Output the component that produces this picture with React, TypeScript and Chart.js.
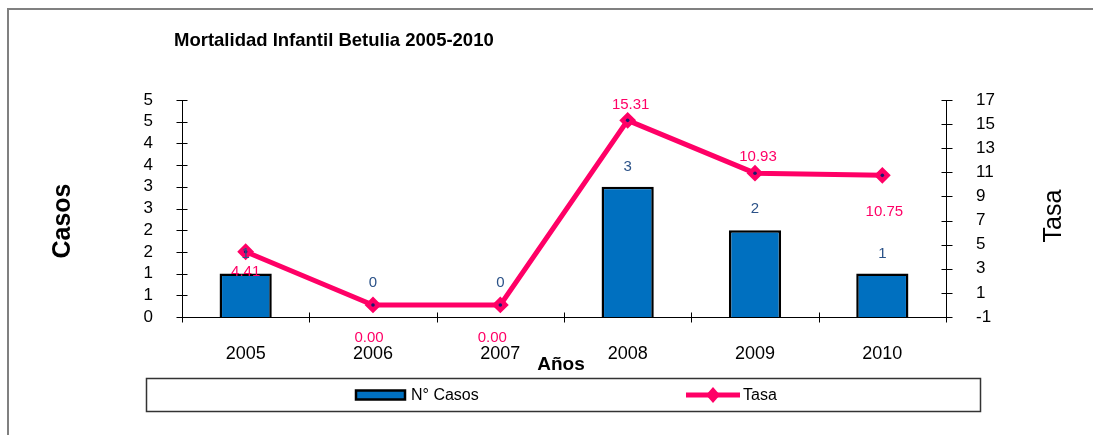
import React, { useEffect, useRef } from 'react';
import { Chart, registerables } from 'chart.js';

Chart.register(...registerables);

// ---- data ----
const categories = ['2005', '2006', '2007', '2008', '2009', '2010'];
const casos = [1, 0, 0, 3, 2, 1];
const tasa = [4.41, 0.0, 0.0, 15.31, 10.93, 10.75];
const casosLabel = 'N° Casos';
const tasaLabel = 'Tasa';
const chartTitle = 'Mortalidad Infantil Betulia 2005-2010';
const leftAxisTitle = 'Casos';
const rightAxisTitle = 'Tasa';
const xAxisTitle = 'Años';
const leftAxisRange = [0, 5, 0.5];
const rightAxisRange = [-1, 17, 2];

// ---- label placement (style) ----
const barLabelGap = [20, 34, 34, 20, 21, 20];
const lineLabelDy = [20, 33, 33, -16, -16, 37];
const lineLabelDx = [0, -4, -8, 3, 3, 2];

const FONT = '"Liberation Sans", Arial, Helvetica, sans-serif';
const PINK = '#FF0066';
const BLUE = '#0070C0';
const LABEL_BLUE = '#2B5288';

const decor = {
  id: 'decor',
  beforeDraw(chart: any) {
    const ctx = chart.ctx;
    ctx.save();
    ctx.fillStyle = '#ffffff';
    ctx.fillRect(0, 0, chart.width, chart.height);
    ctx.strokeStyle = '#808080';
    ctx.lineWidth = 2;
    ctx.beginPath();
    ctx.moveTo(8, chart.height + 5);
    ctx.lineTo(8, 9);
    ctx.lineTo(chart.width + 5, 9);
    ctx.stroke();
    ctx.restore();
  },
  beforeDatasetsDraw(chart: any) {
    const ctx = chart.ctx;
    const ca = chart.chartArea;
    ctx.save();
    ctx.strokeStyle = '#000';
    ctx.lineWidth = 1;
    const L = Math.round(ca.left) + 0.5;
    const R = Math.round(ca.right) + 0.5;
    const B = Math.round(ca.bottom) + 0.5;
    ctx.beginPath();
    ctx.moveTo(L, Math.round(ca.top));
    ctx.lineTo(L, B);
    ctx.lineTo(R, B);
    ctx.moveTo(R, Math.round(ca.top));
    ctx.lineTo(R, B);
    const ys = chart.scales.y;
    ys.ticks.forEach((_t: any, i: number) => {
      const y = Math.round(ys.getPixelForTick(i)) + 0.5;
      ctx.moveTo(L - 6, y);
      ctx.lineTo(L + 5, y);
    });
    const y1 = chart.scales.y1;
    y1.ticks.forEach((_t: any, i: number) => {
      const y = Math.round(y1.getPixelForTick(i)) + 0.5;
      ctx.moveTo(R - 5, y);
      ctx.lineTo(R + 6, y);
    });
    const n = categories.length;
    for (let i = 0; i <= n; i++) {
      const x = Math.round(ca.left + (i * (ca.right - ca.left)) / n) + 0.5;
      ctx.moveTo(x, B - 5);
      ctx.lineTo(x, B + 5);
    }
    ctx.stroke();
    ctx.restore();
  },
  afterDatasetsDraw(chart: any) {
    const ctx = chart.ctx;
    ctx.save();
    ctx.textAlign = 'center';
    ctx.textBaseline = 'middle';
    ctx.font = `15px ${FONT}`;
    const lineMeta = chart.getDatasetMeta(0);
    lineMeta.data.forEach((el: any) => {
      ctx.fillStyle = '#1a1a6e';
      ctx.beginPath();
      ctx.arc(el.x, el.y, 1.8, 0, Math.PI * 2);
      ctx.fill();
    });
    const barMeta = chart.getDatasetMeta(1);
    barMeta.data.forEach((el: any, i: number) => {
      ctx.fillStyle = LABEL_BLUE;
      ctx.fillText(String(casos[i]), el.x, el.y - barLabelGap[i]);
    });
    lineMeta.data.forEach((el: any, i: number) => {
      ctx.fillStyle = PINK;
      ctx.fillText(tasa[i].toFixed(2), el.x + lineLabelDx[i], el.y + lineLabelDy[i]);
    });
    ctx.restore();
  },
  afterDraw(chart: any) {
    const ctx = chart.ctx;
    ctx.save();
    ctx.fillStyle = '#000';
    // chart title
    ctx.font = `bold 18.5px ${FONT}`;
    ctx.textAlign = 'left';
    ctx.textBaseline = 'middle';
    ctx.fillText(chartTitle, 174, 41);
    // x axis title
    ctx.font = `bold 19px ${FONT}`;
    ctx.textAlign = 'center';
    ctx.fillText(xAxisTitle, 561, 365);
    // left axis title
    ctx.save();
    ctx.translate(63, 221);
    ctx.rotate(-Math.PI / 2);
    ctx.font = `bold 25px ${FONT}`;
    ctx.fillText(leftAxisTitle, 0, 0);
    ctx.restore();
    // right axis title
    ctx.save();
    ctx.translate(1054, 216);
    ctx.rotate(-Math.PI / 2);
    ctx.font = `25px ${FONT}`;
    ctx.fillText(rightAxisTitle, 0, 0);
    ctx.restore();
    // legend box
    ctx.lineWidth = 1.5;
    ctx.strokeStyle = '#333';
    ctx.strokeRect(146.5, 378.5, 834, 33);
    const ly = 395;
    // bar swatch
    ctx.fillStyle = BLUE;
    ctx.fillRect(356, ly - 4.5, 49, 9);
    ctx.lineWidth = 2.5;
    ctx.strokeStyle = '#000';
    ctx.strokeRect(356, ly - 4.5, 49, 9);
    ctx.fillStyle = '#000';
    ctx.font = `16px ${FONT}`;
    ctx.textAlign = 'left';
    ctx.fillText(chart.data.datasets[1].label, 411, ly + 1);
    // line swatch
    ctx.strokeStyle = PINK;
    ctx.lineWidth = 5;
    ctx.beginPath();
    ctx.moveTo(686, ly);
    ctx.lineTo(740, ly);
    ctx.stroke();
    ctx.fillStyle = PINK;
    ctx.beginPath();
    ctx.moveTo(713, ly - 8);
    ctx.lineTo(720, ly);
    ctx.lineTo(713, ly + 8);
    ctx.lineTo(706, ly);
    ctx.closePath();
    ctx.fill();
    ctx.fillStyle = '#000';
    ctx.fillText(chart.data.datasets[0].label, 743, ly + 1);
    ctx.restore();
  },
};

export default function App() {
  const ref = useRef<HTMLCanvasElement | null>(null);
  useEffect(() => {
    if (!ref.current) return;
    const yFont = { size: 17, family: FONT };
    const xFont = { size: 18, family: FONT };
    const chart = new Chart(ref.current, {
      data: {
        labels: categories,
        datasets: [
          {
            type: 'line',
            label: tasaLabel,
            data: tasa,
            yAxisID: 'y1',
            borderColor: PINK,
            backgroundColor: PINK,
            borderWidth: 5,
            pointStyle: 'rectRot',
            pointRadius: 7,
            pointBorderWidth: 2,
            pointBackgroundColor: PINK,
            pointBorderColor: PINK,
            tension: 0,
            order: 0,
          },
          {
            type: 'bar',
            label: casosLabel,
            data: casos,
            yAxisID: 'y',
            backgroundColor: BLUE,
            borderColor: '#000',
            borderWidth: 2.5,
            barPercentage: 0.41,
            categoryPercentage: 1,
            order: 1,
          },
        ],
      } as any,
      options: {
        responsive: false,
        animation: false,
        layout: { padding: { top: 100, left: 0, right: 0, bottom: 0 } },
        plugins: {
          legend: { display: false },
          title: { display: false },
          tooltip: { enabled: false },
        },
        scales: {
          x: {
            type: 'category',
            offset: true,
            grid: { display: false },
            border: { display: false },
            ticks: { font: xFont, color: '#000', padding: 18, maxRotation: 0, autoSkip: false },
            afterFit: (s: any) => {
              s.height = 118;
            },
          },
          y: {
            type: 'linear',
            position: 'left',
            min: leftAxisRange[0],
            max: leftAxisRange[1],
            grid: { display: false },
            border: { display: false },
            ticks: {
              stepSize: leftAxisRange[2],
              autoSkip: false,
              font: yFont,
              color: '#000',
              padding: 21,
              callback: (v: any) => String(Math.round(Number(v))),
            },
            afterFit: (s: any) => {
              s.width = 182;
            },
          },
          y1: {
            type: 'linear',
            position: 'right',
            min: rightAxisRange[0],
            max: rightAxisRange[1],
            grid: { display: false },
            border: { display: false },
            ticks: {
              stepSize: rightAxisRange[2],
              autoSkip: false,
              font: yFont,
              color: '#000',
              padding: 22,
            },
            afterFit: (s: any) => {
              s.width = 147;
            },
          },
        },
      } as any,
      plugins: [decor],
    });
    return () => chart.destroy();
  }, []);
  return (
    <div style={{ position: 'absolute', left: 0, top: 0, width: 1093, height: 435 }}>
      <canvas ref={ref} width={1093} height={435} style={{ display: 'block' }} />
    </div>
  );
}
